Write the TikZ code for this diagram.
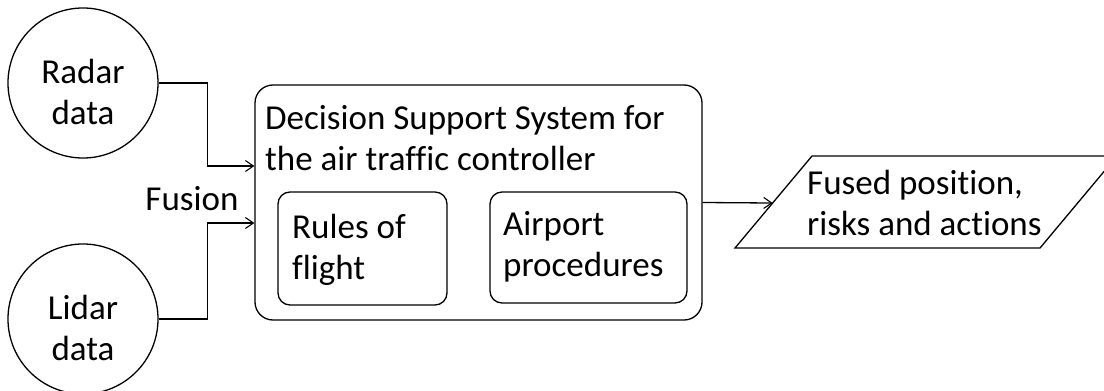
\documentclass[tikz,border=0pt]{standalone}
\usepackage{fontspec}
\setmainfont{Carlito}[Ligatures=CommonOff]
\usetikzlibrary{arrows.meta,calc}
\begin{document}
\begin{tikzpicture}[x=1pt,y=-1pt,
  every node/.style={font=\fontsize{35}{40.5}\selectfont},
  line/.style={line width=1.3pt, draw=black},
  arr/.style={line, -{Straight Barb[length=8pt,width=11pt,line width=1.1pt]}},
  source/.style={line, circle, minimum size=150pt, inner sep=0pt},
  panel/.style={line, rectangle, rounded corners=#1, inner sep=0pt},
  txt/.style={inner sep=0pt, align=left, anchor=base west},
  ctxt/.style={inner sep=0pt, align=center, anchor=base}
]
\clip (0,0) rectangle (1104,391);

% data sources (text nodes are placed by the baseline of their last line)
\node[source] (radar) at (83,83) {};
\node[ctxt] (radarT) at (83,124) {Radar\\data};
\node[source] (lidar) at (83,319) {};
\node[ctxt] (lidarT) at (83,360) {Lidar\\data};

% decision support system with its two rule bases
\node[panel=18pt, minimum width=447pt, minimum height=235pt] (dss) at (478.5,202.5) {};
\node[txt] (dssT) at (265,170) {Decision Support System for\\the air traffic controller};
\node[panel=12pt, minimum width=169pt, minimum height=113pt] (rules) at (362.5,248.5) {};
\node[txt] (rulesT) at (292,279) {Rules of\\flight};
\node[panel=12pt, minimum width=197pt, minimum height=111pt] (airport) at (588.5,247.5) {};
\node[txt] (airportT) at (503,276) {Airport\\procedures};

% output parallelogram
\coordinate (oTL) at (812,156);
\coordinate (oTR) at (1117,156);
\coordinate (oBR) at (1040,248);
\coordinate (oBL) at (735,248);
\draw[line] (oTL) -- (oTR) -- (oBR) -- (oBL) -- cycle;
\coordinate (outL) at ($(oTL)!0.511!(oBL)$);
\node[txt] (outT) at (807,235) {Fused position,\\risks and actions};

% fusion of the two inputs
\node[ctxt] (fusion) at (192,210) {Fusion};
\draw[arr] (radar.east) -- ++(49,0) |- ([yshift=36.5pt]dss.west);
\draw[arr] (lidar.east) -- ++(49,0) |- ([yshift=-20.5pt]dss.west);
\draw[arr] (dss.east) -- (outL);
\end{tikzpicture}
\end{document}
